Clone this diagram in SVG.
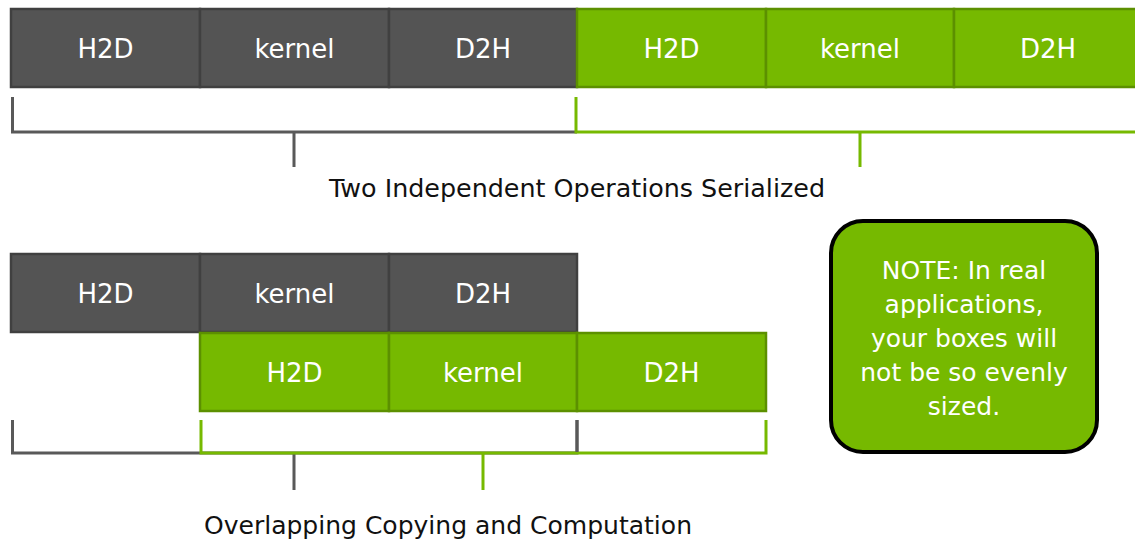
<svg xmlns="http://www.w3.org/2000/svg" width="1135" height="541" viewBox="0 0 1135 541">
<defs>
<style>
.dk{fill:#545454;stroke:#404040;stroke-width:2.5}
.gr{fill:#76b900;stroke:#5c9000;stroke-width:2.5}
.lbl{font-family:"DejaVu Sans",sans-serif;font-size:26px;fill:#ffffff;text-anchor:middle}
.cap{font-family:"DejaVu Sans",sans-serif;font-size:24px;fill:#111111;text-anchor:middle}
.bd{fill:none;stroke:#595959;stroke-width:3}
.bg{fill:none;stroke:#76b900;stroke-width:3}
.note{fill:#76b900;stroke:#000000;stroke-width:4}
.nt{font-family:"DejaVu Sans",sans-serif;font-size:25px;fill:#ffffff;text-anchor:middle}
</style>
</defs>
<rect width="1135" height="541" fill="#ffffff"/>
<g id="top-dark-h2d"><rect class="dk" x="11" y="9" width="189" height="78"/><text class="lbl" x="105.5" y="58">H2D</text></g>
<g id="top-dark-kernel"><rect class="dk" x="200" y="9" width="189" height="78"/><text class="lbl" x="294.5" y="58">kernel</text></g>
<g id="top-dark-d2h"><rect class="dk" x="389" y="9" width="188" height="78"/><text class="lbl" x="483" y="58">D2H</text></g>
<g id="top-green-h2d"><rect class="gr" x="577" y="9" width="189" height="78"/><text class="lbl" x="671.5" y="58">H2D</text></g>
<g id="top-green-kernel"><rect class="gr" x="766" y="9" width="188" height="78"/><text class="lbl" x="860" y="58">kernel</text></g>
<g id="top-green-d2h"><rect class="gr" x="954" y="9" width="190" height="78"/><text class="lbl" x="1048" y="58">D2H</text></g>
<g id="bot-dark-h2d"><rect class="dk" x="11" y="254" width="189" height="78"/><text class="lbl" x="105.5" y="303">H2D</text></g>
<g id="bot-dark-kernel"><rect class="dk" x="200" y="254" width="189" height="78"/><text class="lbl" x="294.5" y="303">kernel</text></g>
<g id="bot-dark-d2h"><rect class="dk" x="389" y="254" width="188" height="78"/><text class="lbl" x="483" y="303">D2H</text></g>
<g id="bot-green-h2d"><rect class="gr" x="200" y="333" width="189" height="78"/><text class="lbl" x="294.5" y="382">H2D</text></g>
<g id="bot-green-kernel"><rect class="gr" x="389" y="333" width="188" height="78"/><text class="lbl" x="483" y="382">kernel</text></g>
<g id="bot-green-d2h"><rect class="gr" x="577" y="333" width="189" height="78"/><text class="lbl" x="671.5" y="382">D2H</text></g>
<g id="connectors">
<path class="bd" d="M12.5 97 V132 H577 M294 132 V167"/>
<path class="bg" d="M576 97 V132 H1140 M860 132 V167"/>
<path class="bd" d="M12.5 420 V453 H577 V420 M294 453 V490"/>
<path class="bg" d="M201 420 V453 H766 V420 M483 453 V490"/>
<path class="bd" d="M577 420 V452"/>
</g>
<g id="caption-top"><text class="cap" x="577" y="197" textLength="496" lengthAdjust="spacingAndGlyphs">Two Independent Operations Serialized</text></g>
<g id="caption-bottom"><text class="cap" x="448" y="534" textLength="488" lengthAdjust="spacingAndGlyphs">Overlapping Copying and Computation</text></g>
<g id="note">
<rect class="note" x="831" y="221" width="266" height="231" rx="32" ry="32"/>
<text class="nt" x="964" y="279">NOTE: In real</text>
<text class="nt" x="964" y="313">applications,</text>
<text class="nt" x="964" y="347">your boxes will</text>
<text class="nt" x="964" y="381">not be so evenly</text>
<text class="nt" x="964" y="415">sized.</text>
</g>
</svg>
